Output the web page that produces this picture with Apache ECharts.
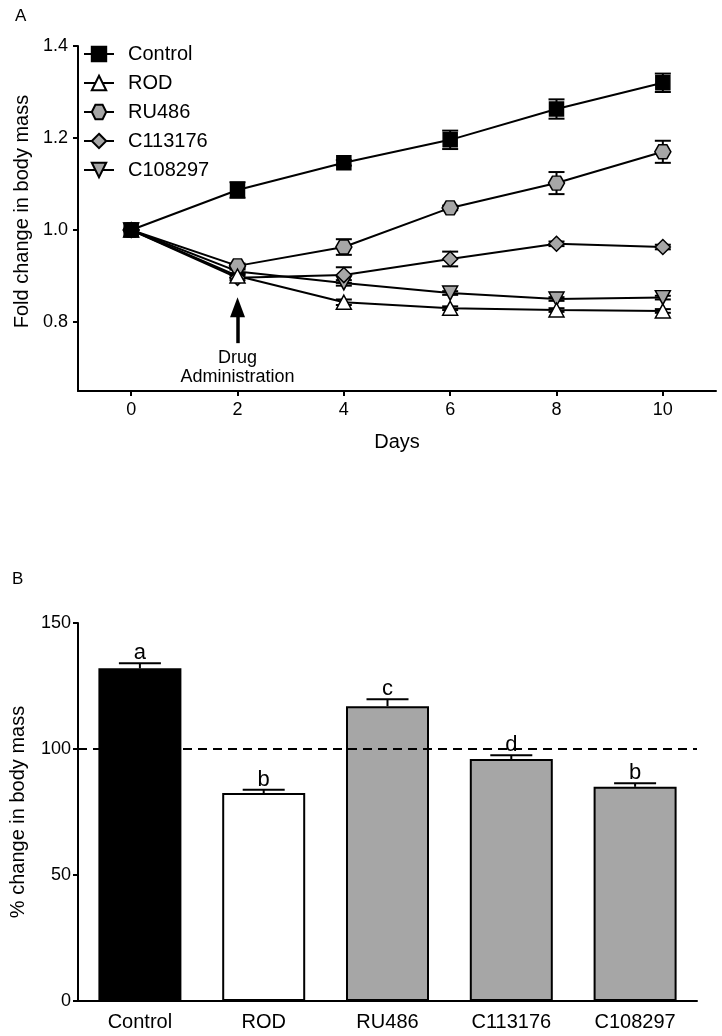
<!DOCTYPE html>
<html>
<head>
<meta charset="utf-8">
<script src="https://cdn.jsdelivr.net/npm/echarts@6/dist/echarts.min.js"></script>
<style>
html,body{margin:0;padding:0;background:#fff;}
#main{width:722px;height:1036px;}
</style>
</head>
<body>
<div id="main"></div>
<script>
// ---- Panel A data ----
const days = [0, 2, 4, 6, 8, 10];
const xTicks = [0, 2, 4, 6, 8, 10];
const yTicksA = [0.8, 1.0, 1.2, 1.4];
const control    = [1.0, 1.087, 1.146, 1.196, 1.263, 1.320];
const controlErr = [0.0, 0.017, 0.006, 0.020, 0.021, 0.020];
const rod        = [1.0, 0.900, 0.843, 0.830, 0.826, 0.824];
const rodErr     = [0.0, 0.004, 0.006, 0.004, 0.004, 0.004];
const ru486      = [1.0, 0.922, 0.963, 1.048, 1.102, 1.170];
const ru486Err   = [0.0, 0.005, 0.017, 0.005, 0.024, 0.024];
const c113176    = [1.0, 0.896, 0.902, 0.937, 0.970, 0.963];
const c113176Err = [0.0, 0.005, 0.017, 0.016, 0.005, 0.005];
const c108297    = [1.0, 0.910, 0.885, 0.863, 0.850, 0.853];
const c108297Err = [0.0, 0.004, 0.006, 0.004, 0.004, 0.004];
const seriesNames = ['Control', 'ROD', 'RU486', 'C113176', 'C108297'];
const arrowFrom = 0.754, arrowTo = 0.832, arrowDay = 2;
const arrowText = 'Drug\nAdministration';

// ---- Panel B data ----
const barCats = ['Control', 'ROD', 'RU486', 'C113176', 'C108297'];
const barVals = [132, 82.5, 117, 96, 85];
const barErr  = [2.0, 1.3, 2.7, 1.5, 1.4];
const barLetters = ['a', 'b', 'c', 'd', 'b'];
const yTicksB = [0, 50, 100, 150];
const refLine = 100;

const FONT = "'Liberation Sans', Arial, sans-serif";
const GRAY = '#a6a6a6';

const chart = echarts.init(document.getElementById('main'));

function errData(vals, errs) { return days.map((d, i) => [d, vals[i], errs[i]]); }

function lineErrRender(params, api) {
  const x = api.value(0), y = api.value(1), e = api.value(2);
  if (!e) return null;
  const t = api.coord([x, y + e]), b = api.coord([x, y - e]);
  const hw = 8;
  const st = { stroke: '#000', lineWidth: 2 };
  return { type: 'group', children: [
    { type: 'line', shape: { x1: t[0], y1: t[1], x2: b[0], y2: b[1] }, style: st },
    { type: 'line', shape: { x1: t[0] - hw, y1: t[1], x2: t[0] + hw, y2: t[1] }, style: st },
    { type: 'line', shape: { x1: b[0] - hw, y1: b[1], x2: b[0] + hw, y2: b[1] }, style: st }
  ]};
}

const markerDefs = {
  'Control': { symbol: 'rect', size: 14, fill: '#000' },
  'ROD': { symbol: 'triangle', size: [15, 14], fill: '#fff' },
  'RU486': { symbol: 'path://M0,5 L2.5,0 L7.5,0 L10,5 L7.5,10 L2.5,10 Z', size: [16, 14], fill: GRAY },
  'C113176': { symbol: 'diamond', size: 15, fill: GRAY },
  'C108297': { symbol: 'path://M0,0 L10,0 L5,10 Z', size: [15, 14], fill: GRAY }
};
const lineVals = { 'Control': control, 'ROD': rod, 'RU486': ru486, 'C113176': c113176, 'C108297': c108297 };
const lineErrs = { 'Control': controlErr, 'ROD': rodErr, 'RU486': ru486Err, 'C113176': c113176Err, 'C108297': c108297Err };

const series = [];
seriesNames.forEach(name => {
  series.push({
    type: 'custom', name: name + '_err', xAxisIndex: 0, yAxisIndex: 0, z: 1,
    renderItem: lineErrRender, data: errData(lineVals[name], lineErrs[name]), silent: true
  });
});
seriesNames.slice().reverse().forEach(name => {
  const m = markerDefs[name];
  series.push({
    type: 'line', name: name, xAxisIndex: 0, yAxisIndex: 0, z: 3,
    data: days.map((d, i) => [d, lineVals[name][i]]),
    symbol: m.symbol, symbolSize: m.size, showSymbol: true,
    lineStyle: { color: '#000', width: 2 },
    itemStyle: { color: m.fill, borderColor: '#000', borderWidth: 1.5 },
    emphasis: { disabled: true }, animation: false
  });
});
series.push({
  type: 'line', name: 'arrow', xAxisIndex: 0, yAxisIndex: 0, data: [], z: 4,
  markLine: {
    silent: true, animation: false, symbol: ['none', 'triangle'], symbolSize: [15, 20],
    lineStyle: { color: '#000', width: 3.5, type: 'solid' }, label: { show: false },
    emphasis: { disabled: true },
    data: [[{ coord: [arrowDay, arrowFrom] }, { coord: [arrowDay, arrowTo] }]]
  },
  markPoint: {
    silent: true, animation: false, symbol: 'circle', symbolSize: 1,
    itemStyle: { color: 'rgba(0,0,0,0)' },
    label: { show: true, position: 'inside', formatter: arrowText, color: '#000', fontSize: 18, lineHeight: 19, fontFamily: FONT, align: 'center' },
    data: [{ coord: [arrowDay, 0.701] }]
  }
});

series.push({
  type: 'bar', name: 'bars', xAxisIndex: 1, yAxisIndex: 1, barWidth: 83,
  data: barVals.map((v, i) => ({
    value: v,
    itemStyle: { color: i === 0 ? '#000' : (i === 1 ? '#fff' : GRAY), borderColor: '#000', borderWidth: 2 }
  })),
  emphasis: { disabled: true }, animation: false,
  markLine: {
    silent: true, animation: false, symbol: 'none', label: { show: false },
    lineStyle: { color: '#000', width: 2, type: [9, 6] },
    emphasis: { disabled: true },
    data: [{ yAxis: refLine }]
  }
});
series.push({
  type: 'custom', name: 'barErr', xAxisIndex: 1, yAxisIndex: 1, z: 5, silent: true,
  data: barVals.map((v, i) => [i, v, barErr[i]]),
  encode: { x: 0, y: 1 },
  renderItem: function (params, api) {
    const idx = api.value(0), v = api.value(1), e = api.value(2);
    const top = api.coord([idx, v + e]), base = api.coord([idx, v]);
    const hw = 21;
    const st = { stroke: '#000', lineWidth: 2 };
    return { type: 'group', children: [
      { type: 'line', shape: { x1: top[0], y1: top[1], x2: base[0], y2: base[1] }, style: st },
      { type: 'line', shape: { x1: top[0] - hw, y1: top[1], x2: top[0] + hw, y2: top[1] }, style: st },
      { type: 'text', x: top[0], y: top[1] + 1, style: { text: barLetters[params.dataIndex], fill: '#000', fontSize: 22, fontFamily: FONT, align: 'center', verticalAlign: 'bottom' } }
    ]};
  }
});

const axisLineSt = { show: true, onZero: false, lineStyle: { color: '#000', width: 2 } };
const tickSt = { show: true, length: 5, lineStyle: { color: '#000', width: 2 } };

const option = {
  animation: false,
  backgroundColor: '#fff',
  textStyle: { fontFamily: FONT },
  graphic: [
    { type: 'text', left: 15, top: 8, style: { text: 'A', fontSize: 17, fill: '#000', fontFamily: FONT } },
    { type: 'text', left: 12, top: 571, style: { text: 'B', fontSize: 17, fill: '#000', fontFamily: FONT } }
  ],
  legend: {
    data: seriesNames, orient: 'vertical', left: 83, top: 44, padding: 0,
    itemWidth: 30, itemHeight: 18, itemGap: 9,
    textStyle: { fontSize: 20, color: '#000', fontFamily: FONT, padding: [0, 0, 0, 9] },
    selectedMode: false
  },
  grid: [
    { left: 78, right: 6, top: 46, bottom: 645, containLabel: false },
    { left: 74, right: 25, top: 623, bottom: 35, containLabel: false }
  ],
  xAxis: [
    {
      type: 'value', gridIndex: 0, min: -1, max: 11,
      name: 'Days', nameLocation: 'middle', nameGap: 41,
      nameTextStyle: { fontSize: 20, color: '#000', fontFamily: FONT },
      axisLine: axisLineSt, axisTick: Object.assign({}, tickSt, { customValues: xTicks }),
      axisLabel: { customValues: xTicks, fontSize: 18, color: '#000', margin: 10, fontFamily: FONT },
      splitLine: { show: false }
    },
    {
      type: 'category', gridIndex: 1, data: barCats,
      axisLine: axisLineSt, axisTick: { show: false },
      axisLabel: { fontSize: 20, color: '#000', margin: 11, fontFamily: FONT, interval: 0 },
      splitLine: { show: false }
    }
  ],
  yAxis: [
    {
      type: 'value', gridIndex: 0, min: 0.65, max: 1.4,
      name: 'Fold change in body mass', nameLocation: 'middle', nameGap: 34,
      nameTextStyle: { fontSize: 20, color: '#000', fontFamily: FONT, padding: [0, 0, 0, 14] },
      axisLine: axisLineSt, axisTick: Object.assign({}, tickSt, { customValues: yTicksA }),
      axisLabel: { customValues: yTicksA, fontSize: 18, color: '#000', margin: 10, fontFamily: FONT, formatter: v => v.toFixed(1) },
      splitLine: { show: false }
    },
    {
      type: 'value', gridIndex: 1, min: 0, max: 150,
      name: '% change in body mass', nameLocation: 'middle', nameGap: 50,
      nameTextStyle: { fontSize: 20, color: '#000', fontFamily: FONT },
      axisLine: axisLineSt, axisTick: Object.assign({}, tickSt, { customValues: yTicksB }),
      axisLabel: { customValues: yTicksB, fontSize: 18, color: '#000', margin: 7, fontFamily: FONT },
      splitLine: { show: false }
    }
  ],
  series: series
};
chart.setOption(option);
</script>
</body>
</html>
